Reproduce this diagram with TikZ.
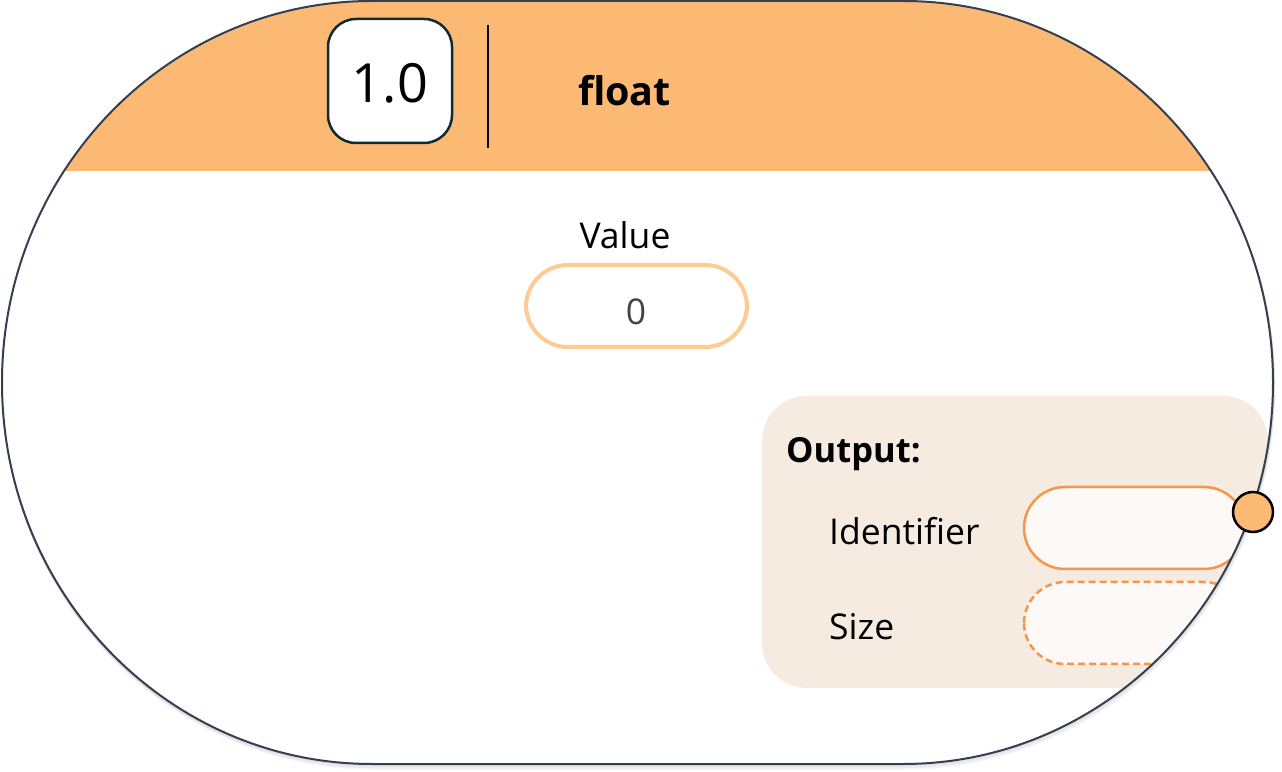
\documentclass[tikz,border=0pt]{standalone}
\usepackage{fontspec}
\setmainfont{Open Sans}
\definecolor{borderc}{HTML}{353F50}
\definecolor{headc}{HTML}{FCB974}
\definecolor{valc}{HTML}{FECB94}
\definecolor{panelc}{HTML}{F5EBE1}
\definecolor{pillc}{HTML}{F7954A}
\definecolor{pillfill}{HTML}{FDF9F6}
\definecolor{boxc}{HTML}{0F2A33}
\definecolor{zeroc}{HTML}{444444}
\tikzset{
  lbl/.style={inner sep=0pt, font=\fontsize{35.5}{40}\selectfont},
  pillbox/.style={fill=pillfill, draw=pillc, line width=2.5pt, rounded corners=41pt},
}
\begin{document}
\begin{tikzpicture}[x=1pt,y=1pt]
\useasboundingbox (0,0) rectangle (1282,771);
\def\outerpath{(372,770) -- (903,770) arc[start angle=90, end angle=0, x radius=370, y radius=381.5]
  arc[start angle=0, end angle=-90, x radius=370, y radius=381.5] -- (372,7)
  arc[start angle=270, end angle=180, x radius=370, y radius=381.5]
  arc[start angle=180, end angle=90, x radius=370, y radius=381.5] -- cycle}
% soft shadow
\foreach \i/\o in {1/0.06,2/0.05,3/0.04,4/0.03,5/0.02}{
  \draw[black, opacity=\o, line width=2pt, yshift=-\i pt, xshift=0.3*\i pt] \outerpath;
}
\fill[white] \outerpath;
\begin{scope}
  \clip \outerpath;
  \fill[headc] (0,600) rectangle (1282,771);
  \fill[panelc, rounded corners=45pt] (762,83) rectangle (1268,375);
  \draw[pillbox] (1024,202) rectangle (1245,284);
  \draw[pillbox, dashed, dash pattern=on 7pt off 4pt] (1024,107) rectangle (1245,189);
\end{scope}
\draw[borderc, line width=2pt] \outerpath;
% header
\node[draw=boxc, fill=white, line width=2.5pt, rounded corners=28pt, minimum width=124pt, minimum height=124pt, inner sep=0pt] (box) at (390,690) {};
\node[inner sep=0pt, font=\fontsize{54}{60}\selectfont] (one) at (390,688) {1.0};
\coordinate (dtop) at (488,746);
\coordinate (dbot) at (488,623);
\draw[black, line width=2pt] (dtop) -- (dbot);
\node[anchor=base west, inner sep=0pt, font=\bfseries\fontsize{39.5}{44}\selectfont] (title) at (578,665) {float};
% value
\node[anchor=base, lbl] (value) at (625,522) {Value};
\node[draw=valc, line width=4pt, fill=white, rounded corners=42pt, minimum width=221pt, minimum height=82pt, inner sep=0pt] (vpill) at (636.5,465) {};
\node[anchor=base, lbl, text=zeroc] (zero) at (636,446) {0};
% output
\node[anchor=base west, lbl, font=\bfseries\fontsize{34.5}{40}\selectfont] (out) at (786,308) {Output:};
\node[anchor=base west, lbl] (ident) at (829,226) {Identifier};
\node[anchor=base west, lbl] (size) at (829,131) {Size};
\node[circle, fill=headc, draw=black, line width=2.5pt, minimum size=40pt, inner sep=0pt] (port) at (1253,259) {};
\end{tikzpicture}
\end{document}
